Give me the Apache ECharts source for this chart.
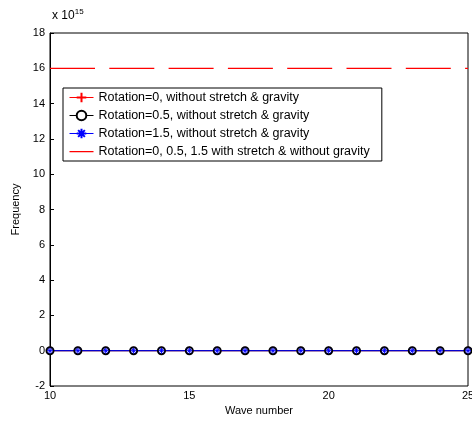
<!DOCTYPE html>
<html><head><meta charset="utf-8">
<script src="https://cdn.jsdelivr.net/npm/echarts@6/dist/echarts.min.js"></script>
<style>html,body{margin:0;padding:0;background:#fff}#c{width:472px;height:423px}</style>
</head><body><div id="c"></div>
<script>
// Data (frequency in units of 1e15)
const waveNumbers = [10,11,12,13,14,15,16,17,18,19,20,21,22,23,24,25];
const rot0 = [0,0,0,0,0,0,0,0,0,0,0,0,0,0,0,0];
const rot05 = [0,0,0,0,0,0,0,0,0,0,0,0,0,0,0,0];
const rot15 = [0,0,0,0,0,0,0,0,0,0,0,0,0,0,0,0];
const stretchX = [10,25];
const stretchY = [16,16];
const yTicks = [-2,0,2,4,6,8,10,12,14,16,18];
const xTicks = [10,15,20,25];
const names = ['Rotation=0, without stretch & gravity','Rotation=0.5, without stretch & gravity','Rotation=1.5, without stretch & gravity','Rotation=0, 0.5, 1.5 with stretch & without gravity'];

const font = 'Liberation Sans, Arial, sans-serif';
const plus = 'path://M0,-1L0,1M-1,0L1,0';
const star = 'path://M0,-1L0,1M-1,0L1,0M-0.7,-0.7L0.7,0.7M-0.7,0.7L0.7,-0.7';
const lineIcon = 'path://M0,0L0.01,0L0.01,0.01ZM0,5.4L24,5.4L24,6.8L0,6.8ZM23.99,12L24,12L24,11.99Z';
const pair = (xs, ys) => xs.map((x,i)=>[x, ys[i]]);

const chart = echarts.init(document.getElementById('c'));
chart.setOption({
  animation:false,
  backgroundColor:'#fff',
  textStyle:{fontFamily:font},
  grid:{left:50,right:4,top:33,bottom:37,outerBoundsMode:'none',containLabel:false,show:true,borderColor:'#000',borderWidth:1,backgroundColor:'transparent'},
  xAxis:{type:'value',min:xTicks[0],max:xTicks[xTicks.length-1],interval:5,
    name:'Wave number',nameLocation:'middle',nameGap:17,nameTextStyle:{fontSize:11,color:'#000',fontFamily:font},
    axisLine:{show:true,lineStyle:{color:'#000'}},axisTick:{inside:true,length:4,lineStyle:{color:'#000'}},
    axisLabel:{color:'#000',fontSize:11,fontFamily:font,margin:4},splitLine:{show:false}},
  yAxis:{type:'value',min:yTicks[0],max:yTicks[yTicks.length-1],interval:2,
    name:'Frequency',nameLocation:'middle',nameGap:24,nameRotate:90,nameTextStyle:{fontSize:11,color:'#000',fontFamily:font},
    axisLine:{show:true,lineStyle:{color:'#000'}},axisTick:{inside:true,length:4,lineStyle:{color:'#000'}},
    axisLabel:{color:'#000',fontSize:11,fontFamily:font,margin:5},splitLine:{show:false}},
  legend:{orient:'vertical',left:63,top:88,itemWidth:24,itemHeight:12,itemGap:5,
    padding:[3,12,3,6],borderColor:'#000',borderWidth:1,backgroundColor:'#fff',
    textStyle:{fontSize:12.5,color:'#000',fontFamily:font},
    data:[{name:names[0],lineStyle:{width:1}},{name:names[1],lineStyle:{width:1}},{name:names[2],lineStyle:{width:1}},
      {name:names[3],icon:lineIcon,itemStyle:{color:'#ff0000',borderColor:'#ff0000',borderWidth:0,opacity:1}}]},
  graphic:[{type:'text',left:52,top:8,style:{text:'{a|x 10}{b|15}',rich:{a:{fontSize:12,fontFamily:font,fill:'#000'},b:{fontSize:8,fontFamily:font,fill:'#000',verticalAlign:'top',padding:[0,0,8,0]}}}}],
  series:[
    {name:names[0],type:'line',data:pair(waveNumbers,rot0),symbol:plus,symbolSize:8,
      lineStyle:{color:'#ff0000',width:1},itemStyle:{color:'#ff0000',borderColor:'#ff0000',borderWidth:1.5}},
    {name:names[1],type:'line',data:pair(waveNumbers,rot05),symbol:'emptyCircle',symbolSize:7,
      lineStyle:{color:'#000',width:1},itemStyle:{color:'#000',borderColor:'#000',borderWidth:1}},
    {name:names[2],type:'line',data:pair(waveNumbers,rot15),symbol:star,symbolSize:6,
      lineStyle:{color:'#0000ff',width:1},itemStyle:{color:'#0000ff',borderColor:'#0000ff',borderWidth:1}},
    {name:names[3],type:'line',data:pair(stretchX,stretchY),symbol:'none',
      lineStyle:{color:'#ff0000',width:1.2,type:[45,14.3]},itemStyle:{color:'#ff0000'}}
  ]
});
</script></body></html>
